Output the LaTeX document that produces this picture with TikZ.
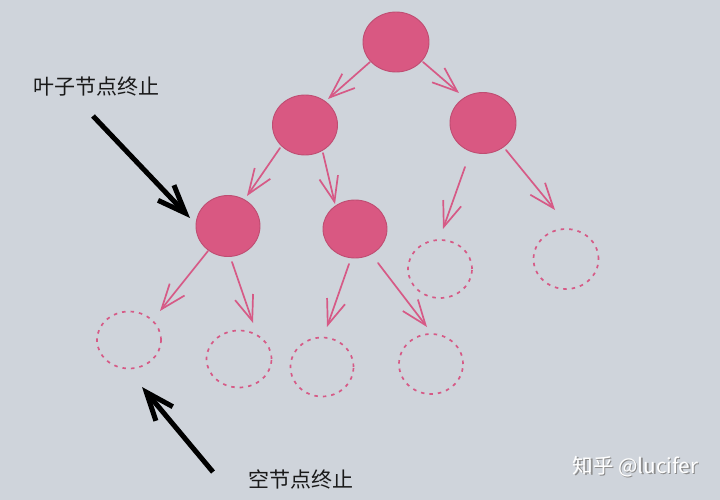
\documentclass[tikz,border=0pt]{standalone}
\usepackage{fontspec}
\newfontfamily\cjk{Noto Sans CJK SC}
\usetikzlibrary{arrows.meta,calc,shapes.geometric}
\definecolor{bg}{HTML}{CFD4DB}
\definecolor{pinkfill}{HTML}{D95882}
\definecolor{pinkline}{HTML}{D65A86}
\begin{document}
\begin{tikzpicture}[x=1pt,y=-1pt,
  full/.style n args={2}{ellipse,fill=pinkfill,draw=pinkfill!88!black,line width=0.9pt,
     minimum width=#1,minimum height=#2,inner sep=0pt},
  empty/.style n args={2}{ellipse,draw=pinkline,line width=1.7pt,dash pattern=on 3.5pt off 5pt,
     minimum width=#1,minimum height=#2,inner sep=0pt},
  parrow/.style={draw=pinkline,line width=1.7pt,line cap=round,
     -{Straight Barb[length=25pt,width=19pt,line width=1.7pt]}},
  barrow/.style={draw=black,line width=5pt,
     -{Straight Barb[length=28pt,width=22pt,line width=5pt]}},
  lbl/.style={font=\cjk\fontsize{21}{24}\selectfont,inner sep=0pt,text=black!90},
  wmark/.style={font=\cjk\fontsize{20.5}{24}\selectfont,inner sep=0pt}]
\fill[bg] (0,0) rectangle (720,500);
\useasboundingbox (0,0) rectangle (720,500);

% filled nodes
\node[full={66}{60}] (root) at (396,42) {};
\node[full={65}{60}] (L) at (305,125) {};
\node[full={66}{61}] (R) at (483,123) {};
\node[full={64}{61}] (LL) at (228,226) {};
\node[full={64}{58}] (LR) at (355,229) {};
% empty nodes
\node[empty={64}{57}] (LLL) at (129,340) {};
\node[empty={65}{57}] (LLR) at (239,359) {};
\node[empty={63}{59}] (LRL) at (322,367) {};
\node[empty={64}{60}] (LRR) at (431,364) {};
\node[empty={64}{58}] (RL) at (440,269) {};
\node[empty={65}{60}] (RR) at (566,259) {};

% connectors
\draw[parrow] ($(root)+(-26,20)$) -- ($(L)+(23,-26)$);
\draw[parrow] ($(root)+(27,20)$) -- ($(R)+(-24,-30)$);
\draw[parrow] ($(L)+(-25,23)$) -- ($(LL)+(19,-30)$);
\draw[parrow] ($(L)+(18,28)$) -- ($(LR)+(-20,-25)$);
\draw[parrow] ($(R)+(-18,44)$) -- ($(RL)+(3,-40)$);
\draw[parrow] ($(R)+(23,27)$) -- ($(RR)+(-11,-49)$);
\draw[parrow] ($(LL)+(-20,25)$) -- ($(LLL)+(31,-29)$);
\draw[parrow] ($(LL)+(4,36)$) -- ($(LLR)+(14,-36)$);
\draw[parrow] ($(LR)+(-6,35)$) -- ($(LRL)+(5,-40)$);
\draw[parrow] ($(LR)+(23,34)$) -- ($(LRR)+(-4,-37)$);

% labels and black arrows
\node[lbl] (leaf) at (96,87) {叶子节点终止};
\node[lbl] (nul) at (301,479) {空节点终止};
\coordinate (a1s) at (93,116);
\coordinate (a1t) at (190,218);
\coordinate (a2s) at (213,472);
\coordinate (a2t) at (142,387);
\draw[barrow] (a1s) -- (a1t);
\draw[barrow] (a2s) -- (a2t);

% watermark
\node[wmark,text=black!45] (wms) at (636.8,467.8) {知乎 @lucifer};
\node[wmark,text=white] (wm) at (635.5,466.5) {知乎 @lucifer};
\end{tikzpicture}
\end{document}
